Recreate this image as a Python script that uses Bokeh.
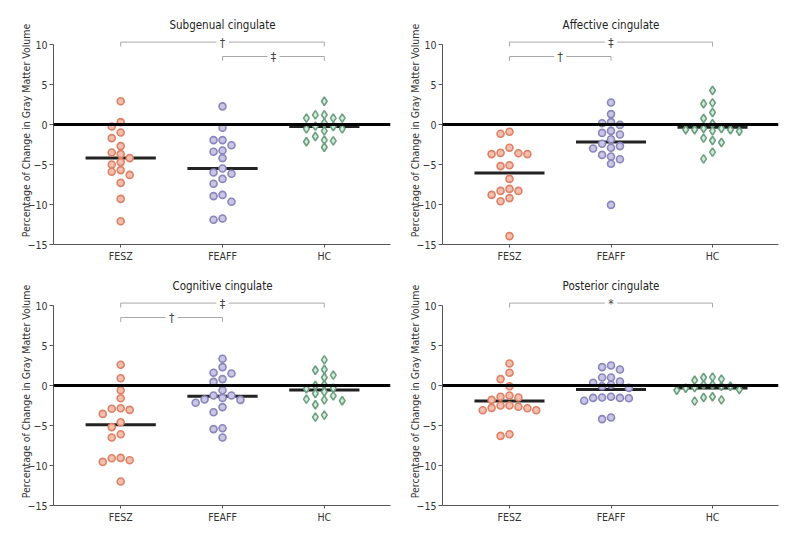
import numpy as np
from bokeh.plotting import figure
from bokeh.layouts import gridplot
from bokeh.models import Span, FixedTicker, ColumnDataSource
from bokeh.core.properties import value
from bokeh.embed import file_html
from bokeh.resources import INLINE

FONT = "'DejaVu Sans Condensed', 'Liberation Sans', sans-serif"

categories = ["FESZ", "FEAFF", "HC"]
titles = ["Subgenual cingulate", "Affective cingulate", "Cognitive cingulate", "Posterior cingulate"]
y_label = "Percentage of Change in Gray Matter Volume"
y_ticks = [-15, -10, -5, 0, 5, 10]
y_tick_labels = ["\u221215", "\u221210", "\u22125", "0", "5", "10"]

# Subgenual cingulate
sub_fesz = [2.9, 0.3, -0.25, -1.0, -1.7, -2.7, -3.5, -3.7, -4.2, -4.7, -5.0, -5.7, -5.9, -6.3, -7.3, -9.3, -12.1]
sub_feaff = [2.27, -0.4, -1.95, -1.95, -2.6, -3.25, -3.4, -4.2, -5.5, -6.0, -6.15, -6.8, -7.4, -8.8, -8.95, -9.65, -11.75, -11.9]
sub_hc = [2.9, 1.2, 1.2, 0.8, 0.8, 0.8, 0.2, -0.2, -0.25, -0.55, -0.55, -0.8, -1.5, -1.95, -2.05, -2.15, -2.85]
sub_means = [-4.2, -5.5, -0.25]

# Affective cingulate
aff_fesz = [-0.9, -1.15, -2.9, -3.55, -3.6, -3.7, -3.7, -5.1, -5.2, -6.8, -8.05, -8.3, -8.3, -8.8, -9.2, -9.6, -13.95]
aff_feaff = [2.75, 1.3, 0.3, 0.15, -0.05, -0.8, -1.05, -1.25, -1.85, -2.4, -2.7, -2.9, -3.0, -3.8, -4.0, -4.35, -4.9, -10.05]
aff_hc = [4.25, 2.7, 2.6, 1.5, 0.75, 0.1, -0.5, -0.5, -0.65, -0.65, -0.65, -0.8, -0.85, -1.7, -2.0, -2.25, -3.45, -4.3]
aff_means = [-6.05, -2.2, -0.35]

# Cognitive cingulate
cog_fesz = [2.6, 0.9, -0.6, -1.6, -2.85, -2.9, -3.05, -3.55, -4.6, -5.2, -6.1, -6.5, -9.05, -9.1, -9.35, -9.55, -12.0]
cog_feaff = [3.35, 2.3, 1.6, 1.5, 0.8, 0.45, -0.6, -1.25, -1.25, -1.55, -1.75, -1.8, -2.15, -2.7, -3.35, -5.35, -5.45, -6.5]
cog_hc = [3.2, 2.0, 1.9, 1.3, 1.0, 0.1, 0.0, -0.35, -0.4, -0.8, -1.0, -1.3, -1.7, -1.8, -1.9, -2.4, -3.7, -3.95]
cog_means = [-4.9, -1.35, -0.55]

# Posterior cingulate
post_fesz = [2.75, 1.6, 0.8, -0.1, -1.25, -1.4, -1.5, -1.8, -2.5, -2.5, -2.65, -2.8, -2.85, -3.1, -3.1, -6.1, -6.3]
post_feaff = [2.5, 2.3, 2.0, 1.0, 1.0, 0.5, 0.35, 0.1, -0.1, -0.3, -1.4, -1.5, -1.55, -1.55, -1.6, -1.9, -4.0, -4.2]
post_hc = [1.05, 1.0, 0.8, 0.65, 0.1, 0.1, -0.1, -0.1, -0.25, -0.35, -0.5, -0.6, -1.4, -1.5, -1.8, -1.95]
post_means = [-1.95, -0.5, -0.3]

# significance brackets: (from group, to group, level 0=upper/1=lower, symbol)
sub_brackets = [(1, 3, 0, "\u2020"), (2, 3, 1, "\u2021")]
aff_brackets = [(1, 3, 0, "\u2021"), (1, 2, 1, "\u2020")]
cog_brackets = [(1, 3, 0, "\u2021"), (1, 2, 1, "\u2020")]
post_brackets = [(1, 3, 0, "*")]

panels = [
    (titles[0], [sub_fesz, sub_feaff, sub_hc], sub_means, sub_brackets),
    (titles[1], [aff_fesz, aff_feaff, aff_hc], aff_means, aff_brackets),
    (titles[2], [cog_fesz, cog_feaff, cog_hc], cog_means, cog_brackets),
    (titles[3], [post_fesz, post_feaff, post_hc], post_means, post_brackets),
]

markers = ["circle", "circle", "diamond"]
marker_sizes = [7, 7, 8.5]
line_colors = ["#dd8166", "#8985bd", "#6c9f80"]
fill_colors = ["#f2bfae", "#c9c6e3", "#d6eadd"]

STEP = 0.088
THRESH = 0.9
HALF = 0.345
BRACKET_Y = [10.3, 8.5]
TICK_DROP = 0.55
GAP = 0.06

# per-panel geometry (borders in px)
COL_BORDERS = [(53, 2), (50, 6)]
ROW_GEOM = [(264, 16, 18), (261, 13, 19)]  # height, top, bottom


def beeswarm(vals):
    order = np.argsort(-np.asarray(vals), kind="stable")
    placed = {}
    offs = np.zeros(len(vals))
    for i in order:
        v = vals[i]
        for k in [0, -1, 1, -2, 2, -3, 3, -4, 4]:
            ys = placed.get(k, [])
            if all(abs(v - y) >= THRESH for y in ys):
                placed.setdefault(k, []).append(v)
                offs[i] = k * STEP
                break
    return offs


def make_panel(idx, title, groups, means, brackets):
    row, col = divmod(idx, 2)
    bl, br = COL_BORDERS[col]
    h, bt, bb = ROW_GEOM[row]
    p = figure(width=392, height=h, x_range=(0.34, 3.65), y_range=(-15, 13.5),
               output_backend="svg", toolbar_location=None,
               min_border_left=bl, min_border_right=br,
               min_border_top=bt, min_border_bottom=bb)
    p.outline_line_color = None
    p.xgrid.visible = False
    p.ygrid.visible = False
    p.background_fill_color = "white"
    p.border_fill_color = "white"

    # axes
    p.yaxis.ticker = FixedTicker(ticks=y_ticks)
    p.yaxis.major_label_overrides = dict(zip(y_ticks, y_tick_labels))
    p.yaxis.bounds = (-15, 10)
    p.yaxis.axis_label = y_label
    p.yaxis.axis_label_text_font_style = "normal"
    p.yaxis.axis_label_text_font = FONT
    p.yaxis.axis_label_text_font_size = "10.5px"
    p.yaxis.axis_label_text_color = "#333333"
    p.yaxis.axis_label_standoff = -7
    p.yaxis.major_tick_out = 4
    p.yaxis.major_tick_in = 0
    p.yaxis.minor_tick_out = 0
    p.yaxis.minor_tick_in = 0
    p.yaxis.major_label_standoff = 2
    p.xaxis.ticker = FixedTicker(ticks=[1, 2, 3])
    p.xaxis.major_label_overrides = {i + 1: c for i, c in enumerate(categories)}
    p.xaxis.major_tick_out = 3
    p.xaxis.major_tick_in = 0
    p.xaxis.minor_tick_out = 0
    p.xaxis.minor_tick_in = 0
    p.xaxis.major_label_standoff = 2
    for ax in (p.xaxis, p.yaxis):
        ax.axis_line_color = "#555555"
        ax.major_tick_line_color = "#555555"
        ax.major_label_text_font = FONT
        ax.major_label_text_font_size = "10.5px"
        ax.major_label_text_color = "#333333"

    # zero line
    p.add_layout(Span(location=0, dimension="width", line_color="black", line_width=3))

    # mean lines
    xs = np.arange(1, len(categories) + 1)
    p.segment(x0=xs - HALF, x1=xs + HALF, y0=means, y1=means, line_color="#222222", line_width=3)

    # points
    for g, vals in enumerate(groups):
        offs = beeswarm(vals)
        src = ColumnDataSource(dict(x=(g + 1) + offs, y=vals))
        p.scatter("x", "y", source=src, marker=markers[g], size=marker_sizes[g],
                  fill_color=fill_colors[g], line_color=line_colors[g], line_width=1.6)

    # brackets
    for (a, b, lvl, sym) in brackets:
        yb = BRACKET_Y[lvl]
        mid = (a + b) / 2
        p.segment(x0=[a, mid + GAP, a, b], x1=[mid - GAP, b, a, b],
                  y0=[yb, yb, yb, yb], y1=[yb, yb, yb - TICK_DROP, yb - TICK_DROP],
                  line_color="#a8a8a8", line_width=1)
        p.text(x=[mid], y=[yb - 0.05], text=[sym], text_align="center", text_baseline="middle",
               text_font=value(FONT), text_font_size="12px", text_color="#444444")

    # title
    p.text(x=[2], y=[12.4], text=[title], text_align="center", text_baseline="middle",
           text_font=value(FONT), text_font_size="11.5px", text_color="#222222")
    return p


figs = [make_panel(i, *panels[i]) for i in range(4)]
grid = gridplot([[figs[0], figs[1]], [figs[2], figs[3]]], toolbar_location=None)

open("out.html", "w").write(file_html(grid, INLINE))
